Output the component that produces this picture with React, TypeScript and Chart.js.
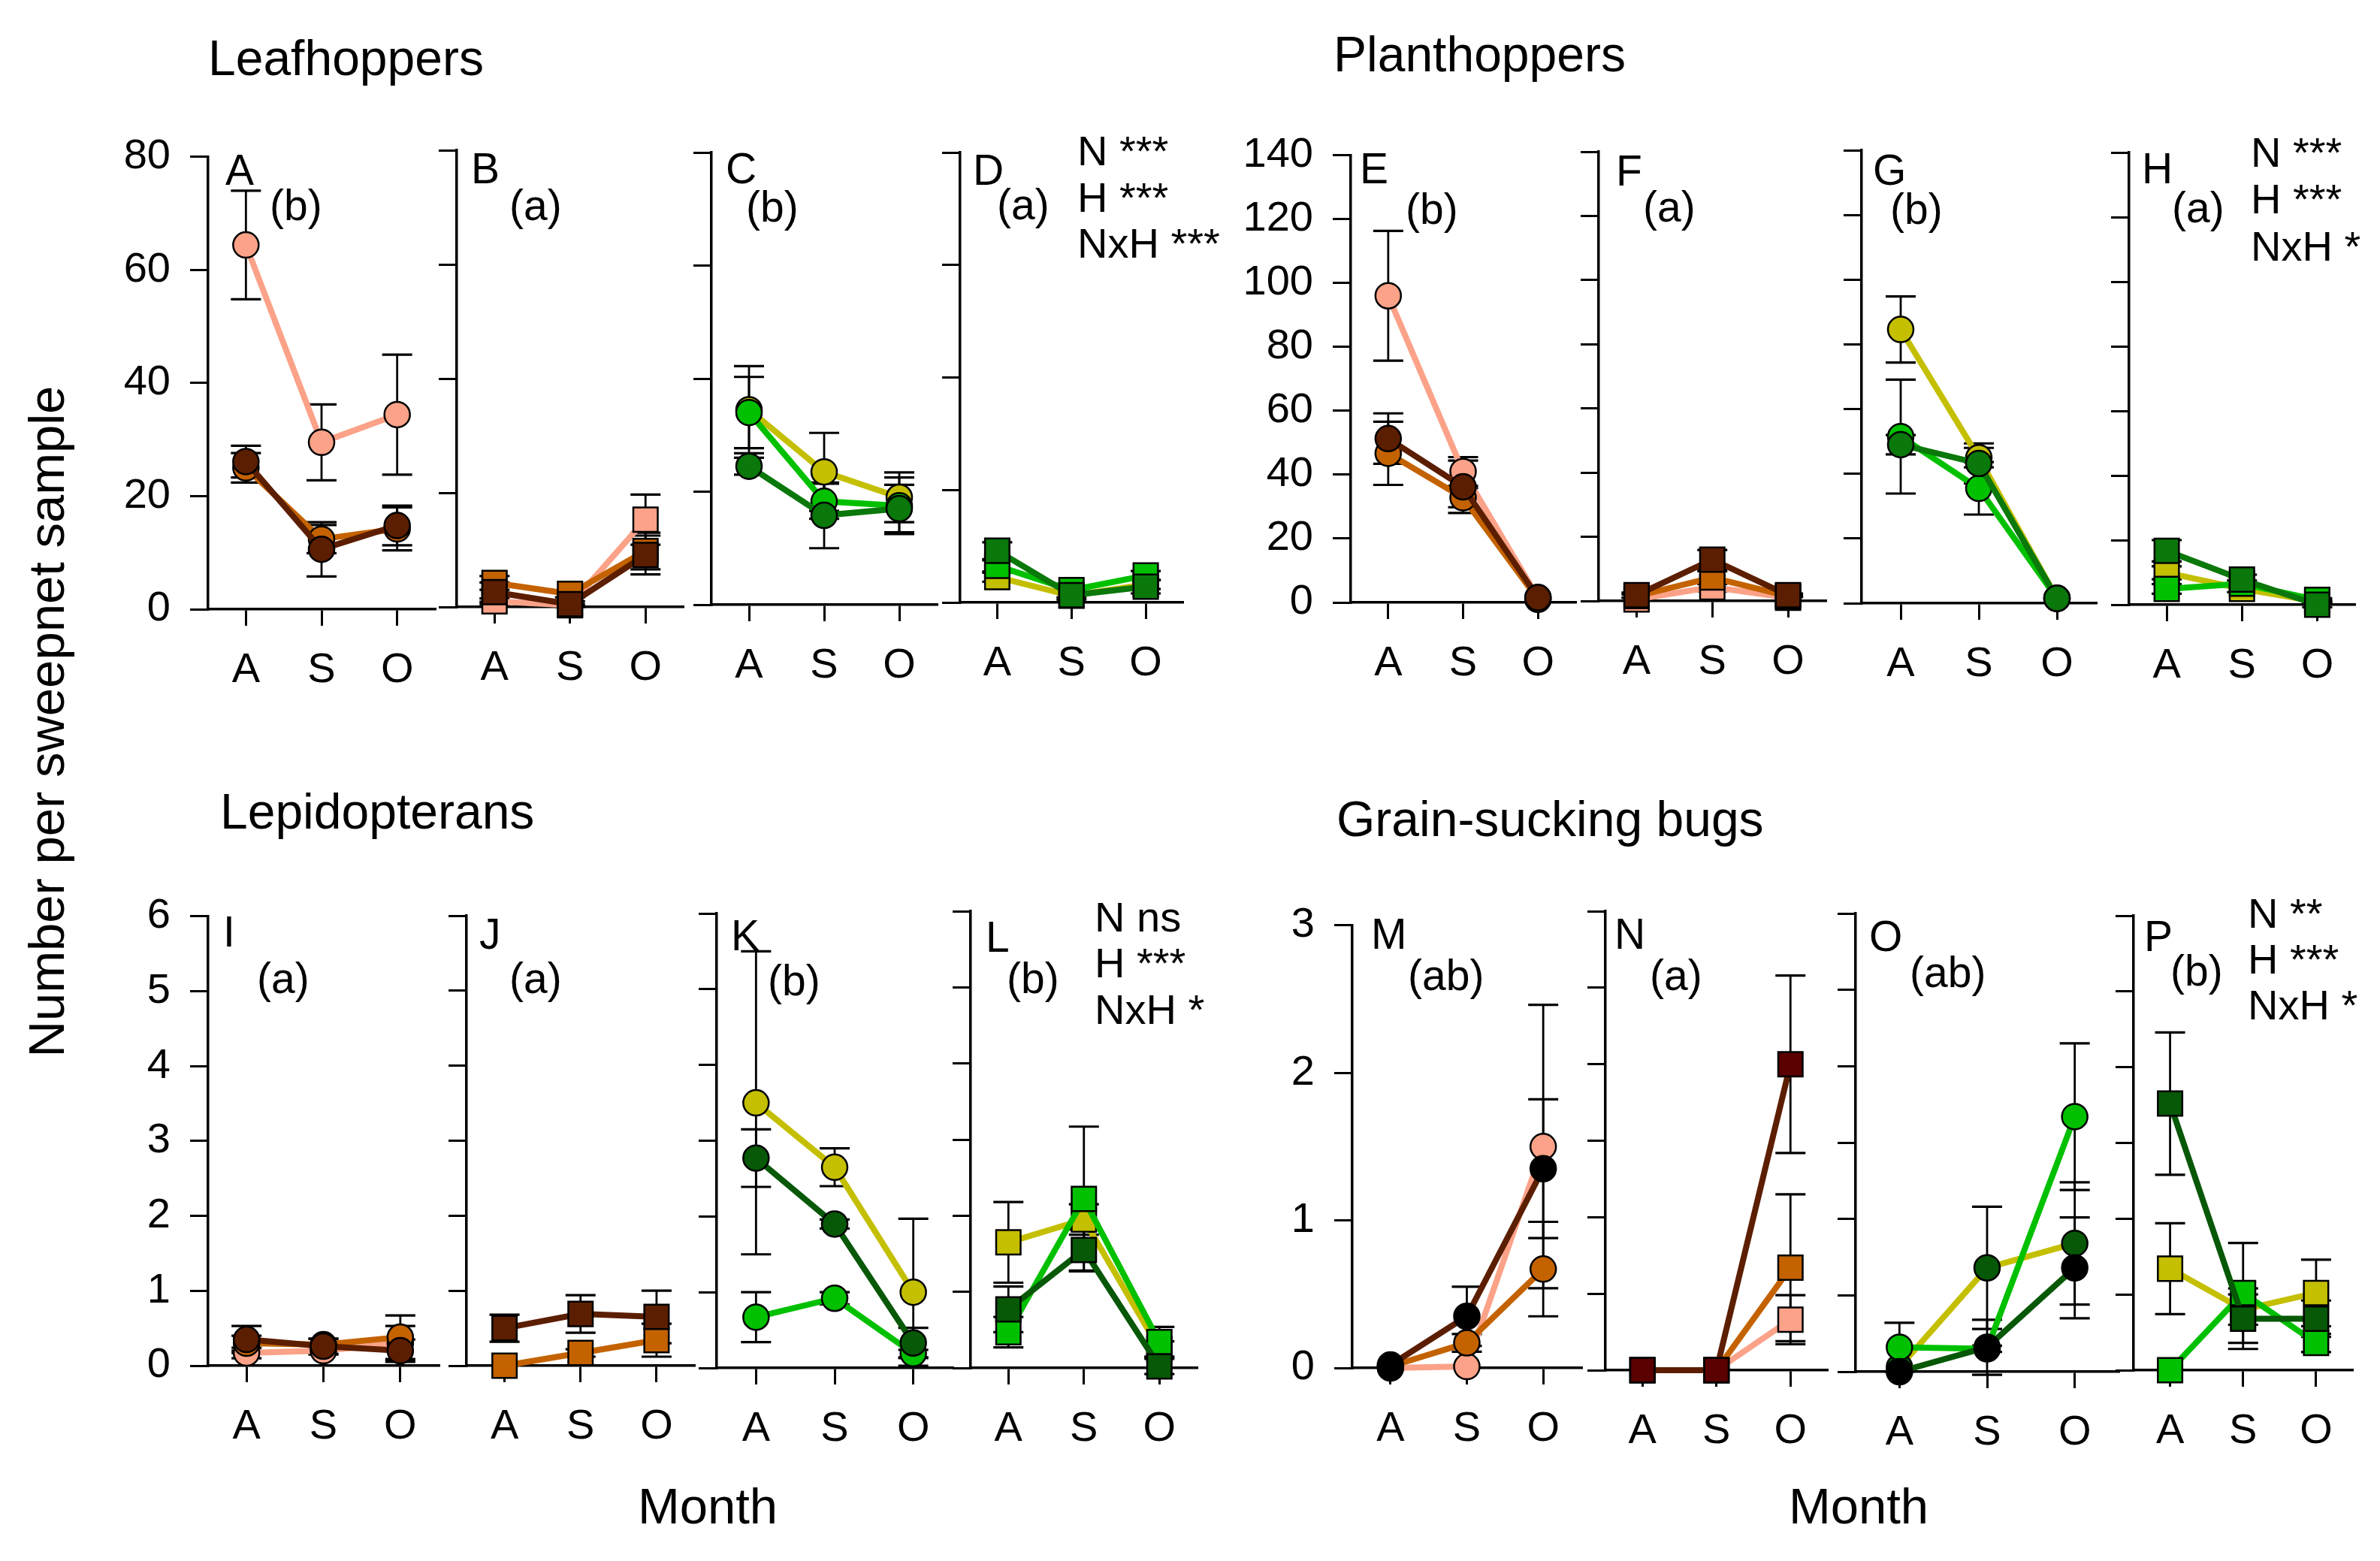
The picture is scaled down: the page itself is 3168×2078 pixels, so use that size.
import { useEffect, useRef } from "react"
import { Chart, registerables } from "chart.js"

Chart.register(...registerables)

const FONT = '"Liberation Sans", Arial, sans-serif'
Chart.defaults.font.family = FONT

// ---- data ----
const months = ["A", "S", "O"]

const ticksLeaf = [0, 20, 40, 60, 80]
const ticksPlant = [0, 20, 40, 60, 80, 100, 120, 140]
const ticksLepi = [0, 1, 2, 3, 4, 5, 6]
const ticksBugWhole = [0, 1, 2, 3]
const ticksBugHalf = [0, 0.5, 1, 1.5, 2, 2.5, 3]

const groupTitles = ["Leafhoppers", "Planthoppers", "Lepidopterans", "Grain-sucking bugs"]
const panelLetters = ["A", "B", "C", "D", "E", "F", "G", "H", "I", "J", "K", "L", "M", "N", "O", "P"]
const panelTags = ["(b)", "(a)", "(b)", "(a)", "(b)", "(a)", "(b)", "(a)", "(a)", "(a)", "(b)", "(b)", "(ab)", "(a)", "(ab)", "(b)"]
const statsLeaf = ["N ***", "H ***", "NxH ***"]
const statsPlant = ["N ***", "H ***", "NxH *"]
const statsLepi = ["N ns", "H ***", "NxH *"]
const statsBug = ["N **", "H ***", "NxH *"]

// means (A, S, O) per series, and standard errors
const meanA = [[64.4, 29.5, 34.4], [25.0, 12.4, 14.2], [26.1, 10.6, 14.8]]
const seA = [[9.6, 6.7, 10.6], [2.6, 2.5, 3.8], [2.8, 4.8, 3.5]]
const meanB = [[1.0, 0.3, 15.3], [4.2, 2.3, 9.8], [2.6, 0.5, 9.1]]
const seB = [[0.5, 0.2, 4.4], [1.2, 0.6, 3.2], [1.7, 0.5, 3.4]]
const meanC = [[34.5, 23.5, 19.0], [34.0, 18.3, 17.5], [24.5, 15.8, 17.0]]
const seC = [[7.7, 6.9, 4.4], [6.3, 3.1, 5.0], [1.5, 5.8, 4.2]]
const meanD = [[4.5, 1.2, 3.2], [6.5, 2.2, 4.8], [9.2, 1.3, 2.8]]
const seD = [[0.8, 0.3, 0.8], [1.0, 0.5, 0.8], [1.5, 0.8, 1.2]]

const meanE = [[96.0, 41.0, 1.5], [46.7, 32.8, 1.0], [51.3, 36.2, 1.5]]
const seE = [[20.3, 4.5, 0], [9.9, 3.0, 0], [7.9, 8.2, 0]]
const meanF = [[0.5, 4.3, 1.0], [1.5, 7.3, 1.5], [1.8, 12.9, 1.8]]
const seF = [[0, 1.3, 0], [0.5, 2.0, 0.3], [0.8, 3.0, 0.5]]
const meanG = [[84.6, 45.0, 1.5], [51.5, 35.5, 1.5], [49.0, 43.2, 1.5]]
const seG = [[10.2, 3.0, 0], [17.6, 8.1, 0], [3.0, 6.2, 0]]
const meanH = [[9.9, 4.9, 1.0], [4.9, 6.5, 1.5], [16.7, 7.8, 0]]
const seH = [[2.0, 1.0, 0.3], [1.5, 1.0, 0.5], [3.3, 1.5, 0.8]]

const meanI = [[0.17, 0.2, 0.3], [0.3, 0.28, 0.38], [0.35, 0.26, 0.2]]
const seI = [[0.07, 0.05, 0.23], [0.1, 0.08, 0.29], [0.18, 0.1, 0.15]]
const meanJ = [[0, 0.17, 0.34], [0.5, 0.69, 0.65]]
const seJ = [[0, 0.05, 0.22], [0.18, 0.25, 0.35]]
const meanK = [[3.5, 2.65, 1.0], [0.67, 0.92, 0.19], [2.77, 1.9, 0.33]]
const seK = [[2.0, 0.25, 0.97], [0.33, 0.08, 0.05], [0.38, 0.06, 0.2]]
const meanL = [[1.65, 1.95, 0.25], [0.47, 2.22, 0.34], [0.77, 1.55, 0.02]]
const seL = [[0.53, 0.2, 0.1], [0.2, 0.95, 0.2], [0.3, 0.27, 0.1]]

const meanM = [[0, 0.01, 1.5], [0.01, 0.17, 0.67], [0.02, 0.35, 1.35]]
const seM = [[0, 0, 0.96], [0, 0.06, 0.32], [0, 0.2, 0.47]]
const meanN = [[0, 0, 0.33], [0, 0, 0.67], [0, 0, 2.0]]
const seN = [[0, 0, 0.16], [0, 0, 0.48], [0, 0, 0.58]]
const meanO = [[0.03, 0.68, 0.84], [0.16, 0.15, 1.67], [0, 0.16, 0.68]]
const seO = [[0, 0.4, 0.4], [0.16, 0.02, 0.48], [0, 0.18, 0.33]]
const meanP = [[0.67, 0.4, 0.51], [0, 0.51, 0.18], [1.76, 0.34, 0.34]]
const seP = [[0.3, 0.1, 0.22], [0, 0.33, 0.06], [0.47, 0.2, 0.12]]

// ---- styles ----
const SALMON = "#fba288"
const ORANGE = "#c46200"
const BROWN = "#5c1e00"
const MAROON = "#5a0000"
const BLACK = "#000000"
const OLIVE = "#c4bf00"
const LIME = "#00c000"
const GREEN = "#0a780a"
const DEEP = "#075807"

const browns = [SALMON, ORANGE, BROWN]
const greens = [OLIVE, LIME, GREEN]
const deepGreens = [OLIVE, LIME, DEEP]

const LPAD = 150
const RPAD = 20
const TPAD = 50
const BPAD = 130
const CAP = 20

type Panel = {
  key: string
  x0: number
  x1: number
  top: number
  bottom: number
  mean: number[][]
  se: number[][]
  lines: string[]
  fills: string[]
  shape: "circle" | "rect"
  ticks: number[]
  labels: boolean
  lx: number
  ly: number
  tx: number
  ty: number
}

const panels: Panel[] = [
  { key: "A", x0: 277, x1: 579, top: 199, bottom: 811, mean: meanA, se: seA, lines: browns, fills: browns, shape: "circle", ticks: ticksLeaf, labels: true, lx: 300, ly: 246, tx: 359, ty: 293 },
  { key: "B", x0: 608, x1: 915, top: 200, bottom: 808, mean: meanB, se: seB, lines: browns, fills: browns, shape: "rect", ticks: ticksLeaf, labels: false, lx: 627, ly: 244, tx: 678, ty: 293 },
  { key: "C", x0: 947, x1: 1247, top: 203, bottom: 805, mean: meanC, se: seC, lines: greens, fills: greens, shape: "circle", ticks: ticksLeaf, labels: false, lx: 966, ly: 244, tx: 993, ty: 295 },
  { key: "D", x0: 1278, x1: 1580, top: 203, bottom: 802, mean: meanD, se: seD, lines: greens, fills: greens, shape: "rect", ticks: ticksLeaf, labels: false, lx: 1295, ly: 246, tx: 1327, ty: 292 },
  { key: "E", x0: 1798, x1: 2097, top: 197, bottom: 802, mean: meanE, se: seE, lines: browns, fills: browns, shape: "circle", ticks: ticksPlant, labels: true, lx: 1810, ly: 244, tx: 1871, ty: 298 },
  { key: "F", x0: 2128, x1: 2436, top: 202, bottom: 800, mean: meanF, se: seF, lines: browns, fills: browns, shape: "rect", ticks: ticksPlant, labels: false, lx: 2151, ly: 247, tx: 2187, ty: 295 },
  { key: "G", x0: 2478, x1: 2790, top: 200, bottom: 803, mean: meanG, se: seG, lines: greens, fills: greens, shape: "circle", ticks: ticksPlant, labels: false, lx: 2493, ly: 246, tx: 2516, ty: 298 },
  { key: "H", x0: 2834, x1: 3140, top: 203, bottom: 805, mean: meanH, se: seH, lines: greens, fills: greens, shape: "rect", ticks: ticksPlant, labels: false, lx: 2851, ly: 244, tx: 2891, ty: 296 },
  { key: "I", x0: 277, x1: 584, top: 1210, bottom: 1818, mean: meanI, se: seI, lines: browns, fills: browns, shape: "circle", ticks: ticksLepi, labels: true, lx: 297, ly: 1260, tx: 342, ty: 1322 },
  { key: "J", x0: 621, x1: 930, top: 1219, bottom: 1818, mean: meanJ, se: seJ, lines: [ORANGE, BROWN], fills: [ORANGE, BROWN], shape: "rect", ticks: ticksLepi, labels: false, lx: 638, ly: 1263, tx: 678, ty: 1322 },
  { key: "K", x0: 954, x1: 1268, top: 1216, bottom: 1821, mean: meanK, se: seK, lines: deepGreens, fills: deepGreens, shape: "circle", ticks: ticksLepi, labels: false, lx: 973, ly: 1265, tx: 1022, ty: 1325 },
  { key: "L", x0: 1292, x1: 1599, top: 1213, bottom: 1821, mean: meanL, se: seL, lines: deepGreens, fills: deepGreens, shape: "rect", ticks: ticksLepi, labels: false, lx: 1312, ly: 1267, tx: 1340, ty: 1322 },
  { key: "M", x0: 1800, x1: 2105, top: 1222, bottom: 1821, mean: meanM, se: seM, lines: browns, fills: [SALMON, ORANGE, BLACK], shape: "circle", ticks: ticksBugWhole, labels: true, lx: 1825, ly: 1263, tx: 1874, ty: 1318 },
  { key: "N", x0: 2137, x1: 2438, top: 1213, bottom: 1824, mean: meanN, se: seN, lines: browns, fills: [SALMON, ORANGE, MAROON], shape: "rect", ticks: ticksBugHalf, labels: false, lx: 2149, ly: 1263, tx: 2196, ty: 1318 },
  { key: "O", x0: 2470, x1: 2820, top: 1216, bottom: 1826, mean: meanO, se: seO, lines: deepGreens, fills: [DEEP, LIME, BLACK], shape: "circle", ticks: ticksBugHalf, labels: false, lx: 2488, ly: 1266, tx: 2542, ty: 1314 },
  { key: "P", x0: 2840, x1: 3137, top: 1219, bottom: 1824, mean: meanP, se: seP, lines: deepGreens, fills: deepGreens, shape: "rect", ticks: ticksBugHalf, labels: false, lx: 2854, ly: 1266, tx: 2889, ty: 1312 },
]

const statBlocks = [
  { lines: statsLeaf, x: 1434, ys: [220, 282, 343] },
  { lines: statsPlant, x: 2996, ys: [222, 284, 347] },
  { lines: statsLepi, x: 1457, ys: [1240, 1301, 1363] },
  { lines: statsBug, x: 2992, ys: [1235, 1296, 1357] },
]

const titlePos = [
  { x: 277, y: 100 },
  { x: 1775, y: 95 },
  { x: 293, y: 1103 },
  { x: 1779, y: 1113 },
]

// mean ± SE whiskers, drawn under the lines and markers
const errorBars = {
  id: "errorBars",
  beforeDatasetsDraw(chart: any) {
    const { ctx } = chart
    const y = chart.scales.y
    ctx.save()
    ctx.strokeStyle = "#000"
    chart.data.datasets.forEach((ds: any, di: number) => {
      const meta = chart.getDatasetMeta(di)
      meta.data.forEach((pt: any, j: number) => {
        const e = ds.errors ? ds.errors[j] : 0
        if (!e) return
        const v = ds.data[j]
        const top = y.getPixelForValue(v + e)
        const bot = y.getPixelForValue(v - e)
        ctx.lineWidth = 2.8
        ctx.beginPath()
        ctx.moveTo(pt.x, top)
        ctx.lineTo(pt.x, bot)
        ctx.stroke()
        ctx.lineWidth = 3.2
        ctx.beginPath()
        ctx.moveTo(pt.x - CAP, top)
        ctx.lineTo(pt.x + CAP, top)
        ctx.moveTo(pt.x - CAP, bot)
        ctx.lineTo(pt.x + CAP, bot)
        ctx.stroke()
      })
    })
    ctx.restore()
  },
}

function PanelChart({ p }: { p: Panel }) {
  const ref = useRef<HTMLCanvasElement>(null)
  const w = p.x1 - p.x0 + LPAD + RPAD
  const h = p.bottom - p.top + TPAD + BPAD

  useEffect(() => {
    if (!ref.current) return
    const n = p.mean.length
    const chart = new Chart(ref.current, {
      type: "line",
      data: {
        labels: months,
        datasets: p.mean.map((m, i) => ({
          data: m,
          errors: p.se[i],
          borderColor: p.lines[i],
          backgroundColor: p.fills[i],
          pointBackgroundColor: p.fills[i],
          pointBorderColor: "#000",
          pointBorderWidth: 2.5,
          pointStyle: p.shape,
          pointRadius: p.shape === "circle" ? 17 : 23,
          pointHoverRadius: p.shape === "circle" ? 17 : 23,
          borderWidth: 8,
          tension: 0,
          clip: false,
          order: n - 1 - i,
        })) as any,
      },
      options: {
        animation: false,
        responsive: false,
        events: [],
        layout: { padding: { top: TPAD, right: RPAD, left: 0, bottom: 0 } },
        plugins: { legend: { display: false }, tooltip: { enabled: false } },
        scales: {
          x: {
            type: "category",
            offset: true,
            grid: { display: true, drawOnChartArea: false, drawTicks: true, tickLength: 22, color: "#000", lineWidth: 3, offset: false },
            border: { display: true, color: "#000", width: 3.5 },
            ticks: { color: "#000", font: { family: FONT, size: 56 }, padding: 26, maxRotation: 0, autoSkip: false },
            afterFit: (s: any) => {
              s.height = BPAD
            },
          },
          y: {
            min: 0,
            max: p.ticks[p.ticks.length - 1],
            afterBuildTicks: (s: any) => {
              s.ticks = p.ticks.map((value) => ({ value }))
            },
            grid: { display: true, drawOnChartArea: false, drawTicks: true, tickLength: 24, color: "#000", lineWidth: 3 },
            border: { display: true, color: "#000", width: 3.5 },
            ticks: { display: p.labels, color: "#000", font: { family: FONT, size: 56 }, padding: 26, callback: (v: any) => String(v) },
            afterFit: (s: any) => {
              s.width = LPAD
            },
          },
        },
      },
      plugins: [errorBars],
    })
    return () => chart.destroy()
  }, [p])

  return (
    <canvas
      ref={ref}
      width={w}
      height={h}
      style={{ position: "absolute", left: p.x0 - LPAD, top: p.top - TPAD, width: w, height: h }}
    />
  )
}

// text placed by its baseline (line-height equal to font size)
function Label({ x, y, size, text, center }: { x: number; y: number; size: number; text: string; center?: boolean }) {
  const top = y - 0.8465 * size
  const style: any = {
    position: "absolute",
    top,
    fontSize: size,
    lineHeight: `${size}px`,
    fontFamily: FONT,
    whiteSpace: "pre",
    color: "#000",
  }
  if (center) {
    style.left = x - 500
    style.width = 1000
    style.textAlign = "center"
  } else {
    style.left = x
  }
  return <div style={style}>{text}</div>
}

export default function App() {
  return (
    <div
      style={{
        position: "fixed",
        left: 0,
        top: 0,
        width: 3168,
        height: 2078,
        background: "#fff",
        overflow: "hidden",
        fontFamily: FONT,
      }}
    >
      {panels.map((p) => (
        <PanelChart key={p.key} p={p} />
      ))}
      {panels.map((p, i) => (
        <div key={"t" + p.key}>
          <Label x={p.lx} y={p.ly} size={57} text={panelLetters[i]} />
          <Label x={p.tx} y={p.ty} size={57} text={panelTags[i]} />
        </div>
      ))}
      {statBlocks.map((b, i) =>
        b.lines.map((t, j) => <Label key={"s" + i + j} x={b.x} y={b.ys[j]} size={56} text={t} />),
      )}
      {groupTitles.map((t, i) => (
        <Label key={"g" + i} x={titlePos[i].x} y={titlePos[i].y} size={66} text={t} />
      ))}
      <Label x={942} y={2028} size={67} text="Month" center />
      <Label x={2474} y={2028} size={67} text="Month" center />
      <div
        style={{
          position: "absolute",
          left: 61 - 500,
          top: 960 - 33.5,
          width: 1000,
          height: 67,
          lineHeight: "67px",
          fontSize: 67,
          fontFamily: FONT,
          textAlign: "center",
          transform: "rotate(-90deg)",
          whiteSpace: "pre",
          color: "#000",
        }}
      >
        Number per sweepnet sample
      </div>
    </div>
  )
}
